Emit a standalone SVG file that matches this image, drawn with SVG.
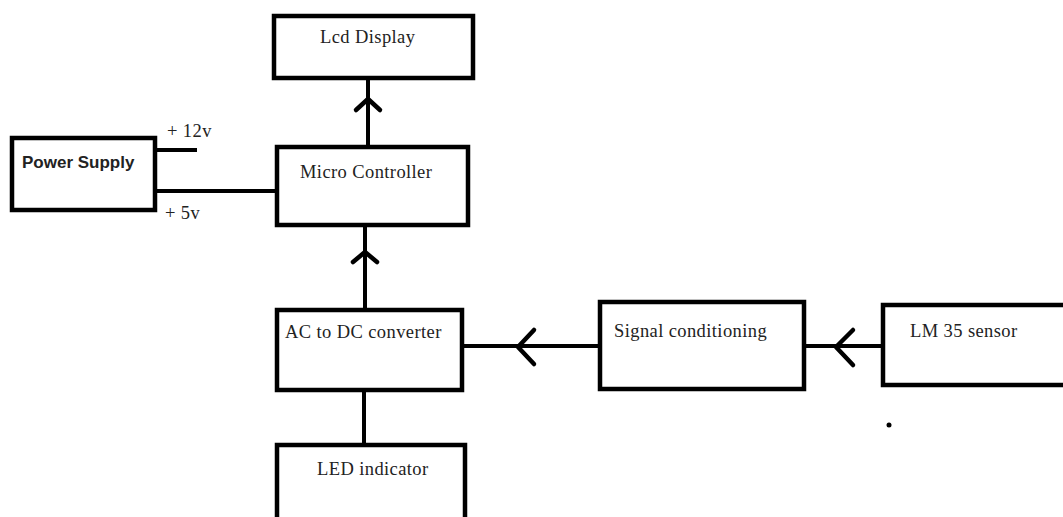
<svg xmlns="http://www.w3.org/2000/svg" width="1063" height="517" viewBox="0 0 1063 517">
<style>
.box{fill:#fff;stroke:#000;stroke-width:4.5}
.ln{fill:none;stroke:#000;stroke-width:4;stroke-linecap:butt}
.ah{fill:none;stroke:#000;stroke-width:4.5;stroke-linecap:round;stroke-linejoin:round}
.t{font-family:"Liberation Serif",serif;font-size:18.5px;letter-spacing:0.4px;fill:#222}
.tb{font-family:"Liberation Sans",sans-serif;font-size:17px;font-weight:bold;fill:#222}
</style>
<rect width="1063" height="517" fill="#fff"/>
<g id="connectors">
<line class="ln" x1="157" y1="150" x2="197" y2="150"/>
<line class="ln" x1="157" y1="191" x2="276" y2="191"/>
<line class="ln" x1="368" y1="146" x2="368" y2="80"/>
<polyline class="ah" points="356,110 368,99 380,110"/>
<line class="ln" x1="365" y1="308" x2="365" y2="226"/>
<polyline class="ah" points="353,262 365,252 377,262"/>
<line class="ln" x1="364" y1="392" x2="364" y2="443"/>
<line class="ln" x1="463" y1="346" x2="598" y2="346"/>
<polyline class="ah" points="534,330 518,347 534,364"/>
<line class="ln" x1="806" y1="346" x2="882" y2="346"/>
<polyline class="ah" points="853,330 836,347 853,365"/>
</g>
<g id="lcd-display">
<rect class="box" x="274" y="16" width="199" height="62"/>
<text class="t" x="320" y="43">Lcd Display</text>
</g>
<g id="power-supply">
<rect class="box" x="12" y="138" width="143" height="72"/>
<text class="tb" x="22" y="168">Power Supply</text>
<text class="t" x="167" y="137" font-size="16.5">+ 12v</text>
<text class="t" x="165" y="219" font-size="16.5">+ 5v</text>
</g>
<g id="micro-controller">
<rect class="box" x="277" y="147" width="191" height="78"/>
<text class="t" x="300" y="178">Micro Controller</text>
</g>
<g id="ac-dc-converter">
<rect class="box" x="277" y="310" width="185" height="80"/>
<text class="t" x="285" y="338">AC to DC converter</text>
</g>
<g id="led-indicator">
<rect class="box" x="277" y="445" width="188" height="90"/>
<text class="t" x="317" y="475">LED indicator</text>
</g>
<g id="signal-conditioning">
<rect class="box" x="600" y="302" width="204" height="87"/>
<text class="t" x="614" y="337">Signal conditioning</text>
</g>
<g id="lm35-sensor">
<rect class="box" x="883" y="305" width="190" height="80"/>
<text class="t" x="910" y="337">LM 35 sensor</text>
</g>
<circle cx="889" cy="425" r="2.5" fill="#000"/>
</svg>
